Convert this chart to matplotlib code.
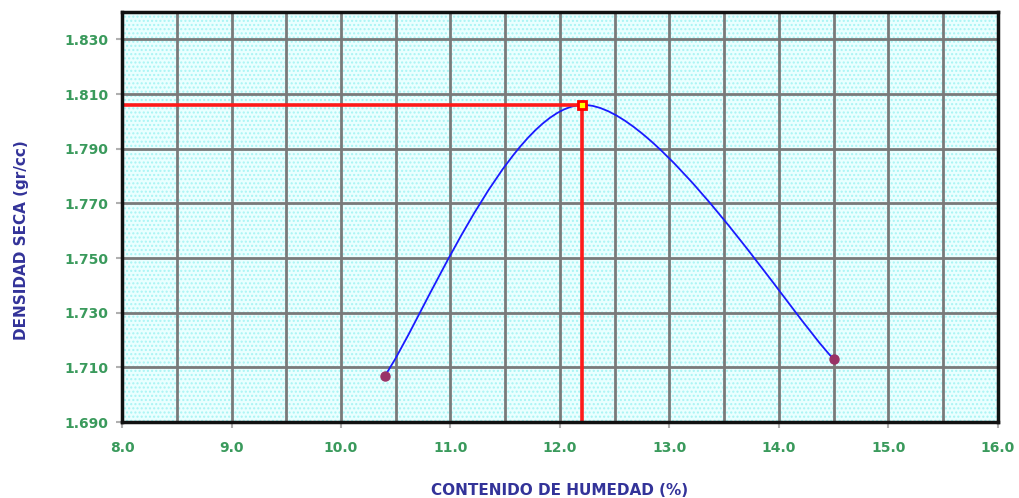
import numpy as np
import matplotlib
matplotlib.use("Agg")
import matplotlib.pyplot as plt
from matplotlib.path import Path
from matplotlib.patches import PathPatch, Rectangle

# Compaction test: moisture content vs dry density
humedad = [10.4, 12.2, 14.5]          # %
densidad = [1.707, 1.806, 1.713]      # gr/cc
humedad_opt = 12.2
densidad_max = 1.806

x_ticks = [8.0, 9.0, 10.0, 11.0, 12.0, 13.0, 14.0, 15.0, 16.0]
y_ticks = [1.690, 1.710, 1.730, 1.750, 1.770, 1.790, 1.810, 1.830]

label_color = "#3a9a5c"
title_color = "#333399"
grid_color = "#7a7a7a"

fig = plt.figure(figsize=(10.2, 4.98), dpi=100)
ax = fig.add_axes([122 / 1020, 1 - 422 / 498, (998 - 122) / 1020, (422 - 12) / 498])
ax.set_xlim(8.0, 16.0)
ax.set_ylim(1.690, 1.840)

# light cyan dotted paper
ax.set_facecolor("#eaffff")
ax.add_patch(Rectangle((0, 0), 1, 1, transform=ax.transAxes, facecolor="none",
                       edgecolor="#a8f4f4", hatch="....", linewidth=0, zorder=0))

# grid: every 0.5 in x, every 0.02 in y
for xv in np.arange(8.5, 16.0, 0.5):
    ax.axvline(xv, color=grid_color, lw=2.0, zorder=1)
for yv in y_ticks[1:]:
    ax.axhline(yv, color=grid_color, lw=2.0, zorder=1)

# smoothed curve through the data points (cubic Bezier segments)
pts = np.column_stack([humedad, densidad])
n = len(pts)
verts = [tuple(pts[0])]
codes = [Path.MOVETO]
for i in range(n - 1):
    p_prev = pts[i - 1] if i > 0 else pts[i]
    p_next2 = pts[i + 2] if i + 2 < n else pts[i + 1]
    c1 = pts[i] + (pts[i + 1] - p_prev) / 6.0
    c2 = pts[i + 1] - (p_next2 - pts[i]) / 6.0
    verts += [tuple(c1), tuple(c2), tuple(pts[i + 1])]
    codes += [Path.CURVE4] * 3
ax.add_patch(PathPatch(Path(verts, codes), facecolor="none", edgecolor="#1a1aff",
                       lw=1.3, zorder=3))
ax.plot(humedad, densidad, ls="none", marker="o", ms=6.5, color="#993366", zorder=4)

# optimum moisture / max dry density
ax.plot([8.0, humedad_opt], [densidad_max, densidad_max], color="#ff1a1a", lw=2.6, zorder=5)
ax.plot([humedad_opt, humedad_opt], [1.690, densidad_max], color="#ff1a1a", lw=2.6, zorder=5)
ax.plot([humedad_opt], [densidad_max], ls="none", marker="s", ms=6, mfc="#ffff00",
        mec="#ff0000", mew=2, zorder=6)

ax.set_xticks(x_ticks)
ax.set_xticklabels([f"{v:.1f}" for v in x_ticks])
ax.set_yticks(y_ticks)
ax.set_yticklabels([f"{v:.3f}" for v in y_ticks])
ax.tick_params(axis="both", direction="out", length=4, width=1.5, color="#b0b0b0",
               labelsize=10, labelcolor=label_color)
for lab in ax.get_xticklabels() + ax.get_yticklabels():
    lab.set_fontweight("bold")
ax.tick_params(axis="y", pad=6)
ax.tick_params(axis="x", pad=10)

for side in ["left", "bottom", "right", "top"]:
    ax.spines[side].set_linewidth(2.5)
    ax.spines[side].set_color("#111111")
    ax.spines[side].set_zorder(7)

fig.text(22 / 1020, 1 - 240 / 498, "DENSIDAD SECA (gr/cc)", rotation=90, ha="center",
         va="center", fontsize=11, fontweight="bold", color=title_color)
fig.text(560 / 1020, 1 - 490 / 498, "CONTENIDO DE HUMEDAD (%)", ha="center", va="center",
         fontsize=11, fontweight="bold", color=title_color)

fig.savefig("out.png", dpi=100)
